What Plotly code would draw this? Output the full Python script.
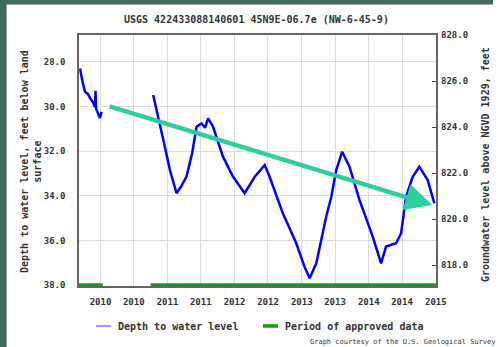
import plotly.graph_objects as go

# ---- data ----
seg1_dates = ["2009-09-12", "2009-09-25", "2009-10-09", "2009-10-25", "2009-11-05", "2009-11-20",
              "2009-12-02", "2009-12-05", "2009-12-08", "2009-12-20", "2009-12-29", "2010-01-07"]
seg1_depth = [28.30, 28.90, 29.34, 29.45, 29.63, 29.80,
              30.02, 29.30, 30.10, 30.30, 30.52, 30.24]

seg2_dates = ["2010-10-15", "2010-11-20", "2010-12-20", "2011-01-14", "2011-02-19", "2011-03-15",
              "2011-04-14", "2011-05-15",
              "2011-06-08", "2011-07-05", "2011-07-25", "2011-08-10", "2011-09-06", "2011-10-30",
              "2011-12-24", "2012-02-25", "2012-04-20", "2012-06-13", "2012-07-10",
              "2012-09-20", "2012-12-02", "2013-01-16", "2013-02-13", "2013-03-21",
              "2013-05-14", "2013-06-11", "2013-07-08", "2013-08-09", "2013-09-18",
              "2013-11-11", "2014-01-23", "2014-03-09", "2014-04-05", "2014-05-30",
              "2014-06-26", "2014-07-23", "2014-08-28", "2014-10-03", "2014-11-18",
              "2014-12-24"]
seg2_depth = [29.49, 30.75, 31.90, 32.85, 33.89, 33.60,
              33.15, 32.10,
              30.91, 30.76, 30.95, 30.53, 30.91, 32.25,
              33.15, 33.89, 33.15, 32.63, 33.15,
              34.79, 36.13, 37.18, 37.70, 37.03,
              34.94, 34.05, 32.85, 32.03, 32.70,
              34.19, 35.84, 37.03, 36.28, 36.13,
              35.68, 34.05, 33.15, 32.70, 33.30,
              34.34]

approved_dates = ["2009-09-06", "2010-01-14", None, "2010-10-01", "2015-01-02"]
approved_depth = [38.0, 38.0, None, 38.0, 38.0]

tick_dates = ["2010-01-01", "2010-07-01", "2011-01-01", "2011-07-01", "2012-01-01",
              "2012-07-01", "2013-01-01", "2013-07-01", "2014-01-01", "2014-07-01",
              "2015-01-01"]
tick_text = ["2010", "2010", "2011", "2011", "2012", "2012", "2013", "2013",
             "2014", "2014", "2015"]

left_ticks = [28, 30, 32, 34, 36, 38]
right_ticks = [818, 820, 822, 824, 826, 828]

trend_start = ("2010-02-12", 29.98)
trend_end = ("2014-12-13", 34.42)

title = "USGS 422433088140601 45N9E-06.7e (NW-6-45-9)"

# ---- layout helpers ----
W, H = 500, 347
L, R, T, B = 79, 64, 35, 61
pw, ph = W - L - R, H - T - B


def px(xp):
    return (xp - L) / pw


def py(yp):
    return (H - B - yp) / ph


MONO = "DejaVu Sans Mono"
TXT = "#333333"
font_b = dict(family=MONO, size=9, color=TXT, weight="bold")

fig = go.Figure()

depth_dates = seg1_dates + [None] + seg2_dates
depth_vals = seg1_depth + [None] + seg2_depth

fig.add_trace(go.Scatter(x=approved_dates, y=approved_depth, mode="lines",
                         line=dict(color="#10a010", width=3.5),
                         connectgaps=False, showlegend=False, hoverinfo="skip"))
fig.add_trace(go.Scatter(x=depth_dates, y=depth_vals, mode="lines",
                         line=dict(color="#0000ff", width=2.5),
                         connectgaps=False, showlegend=False))
fig.add_trace(go.Scatter(x=[seg2_dates[0]], y=[right_ticks[0]], yaxis="y2",
                         mode="lines", showlegend=False, hoverinfo="skip"))

fig.update_layout(
    width=W, height=H,
    margin=dict(l=L, r=R, t=T, b=B),
    paper_bgcolor="white", plot_bgcolor="white",
    showlegend=False,
    xaxis=dict(type="date", range=["2009-09-06", "2015-01-02"],
               tickmode="array", tickvals=tick_dates, ticktext=tick_text,
               ticklabeloverflow="allow",
               showgrid=True, gridcolor="#dcdcdc", gridwidth=1,
               showline=True, linecolor="#666666", linewidth=1.5, mirror=True,
               ticks="", tickfont=font_b, ticklabelstandoff=6, zeroline=False),
    yaxis=dict(range=[38.045, 26.80], tickvals=left_ticks,
               ticktext=[f"{v:.1f}" for v in left_ticks],
               showgrid=True, gridcolor="#dcdcdc", gridwidth=1,
               showline=True, linecolor="#666666", linewidth=1.5, mirror=True,
               ticks="", tickfont=font_b, ticklabelstandoff=10, zeroline=False),
    yaxis2=dict(range=[817.09, 828.0], overlaying="y", side="right",
                tickvals=right_ticks, ticktext=[f"{v:.1f}" for v in right_ticks],
                showgrid=False, zeroline=False, showline=False,
                ticks="inside", ticklen=4, tickcolor="#444444",
                tickfont=font_b, ticklabelstandoff=4),
)

# frame decoration
shapes = [
    dict(type="rect", xref="paper", yref="paper", x0=px(0), x1=px(6), y0=py(H), y1=py(0),
         fillcolor="#3e6b5a", line=dict(width=0), layer="below"),
    dict(type="rect", xref="paper", yref="paper", x0=px(0), x1=px(493), y0=py(4), y1=py(0),
         fillcolor="#3e6b5a", line=dict(width=0), layer="below"),
    dict(type="line", xref="paper", yref="paper", x0=px(6.5), x1=px(6.5), y0=py(H), y1=py(4),
         line=dict(color="#a0a0a0", width=1), layer="below"),
    dict(type="line", xref="paper", yref="paper", x0=px(6), x1=px(493), y0=py(4.5), y1=py(4.5),
         line=dict(color="#a0a0a0", width=1), layer="below"),
    # legend samples
    dict(type="line", xref="paper", yref="paper", x0=px(96), x1=px(111), y0=py(326), y1=py(326),
         line=dict(color="#7a7aff", width=1.5)),
    dict(type="line", xref="paper", yref="paper", x0=px(263), x1=px(278), y0=py(326), y1=py(326),
         line=dict(color="#10a010", width=3.5)),
]
fig.update_layout(shapes=shapes)

bold10 = dict(family=MONO, size=10, color=TXT, weight="bold")
annotations = [
    dict(text=title, xref="paper", yref="paper", x=px(256), y=py(19),
         xanchor="center", yanchor="middle", showarrow=False, font=bold10),
    dict(text="Depth to water level, feet below land<br>surface", xref="paper", yref="paper",
         x=px(31), y=py(162), xanchor="center", yanchor="middle", textangle=-90,
         showarrow=False, font=bold10),
    dict(text="Groundwater level above NGVD 1929, feet", xref="paper", yref="paper",
         x=px(485), y=py(165), xanchor="center", yanchor="middle", textangle=-90,
         showarrow=False, font=bold10),
    dict(text="Depth to water level", xref="paper", yref="paper", x=px(116), y=py(326),
         xanchor="left", yanchor="middle", showarrow=False, font=bold10),
    dict(text="Period of approved data", xref="paper", yref="paper", x=px(283), y=py(326),
         xanchor="left", yanchor="middle", showarrow=False, font=bold10),
    dict(text="Graph courtesy of the U.S. Geological Survey", xref="paper", yref="paper",
         x=px(497), y=py(342), xanchor="right", yanchor="middle", showarrow=False,
         font=dict(family=MONO, size=7, color=TXT)),
    # trend arrow
    dict(x=trend_end[0], y=trend_end[1], xref="x", yref="y",
         ax=trend_start[0], ay=trend_start[1], axref="x", ayref="y",
         text="", showarrow=True, arrowhead=2, arrowsize=1.2, arrowwidth=4.5,
         arrowcolor="#2ecf9a"),
]
fig.update_layout(annotations=annotations)

fig.write_html("out.html", config={"displayModeBar": False},
               post_script="document.body.style.margin='0';")
